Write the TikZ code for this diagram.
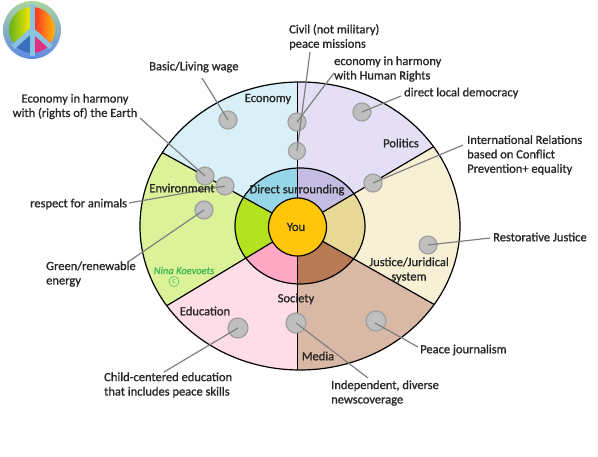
\documentclass[tikz,border=0pt]{standalone}
\usepackage{fontspec}
\setmainfont{Carlito}
\newfontfamily\lblfont[FakeBold=1]{Carlito}
\newfontfamily\ninafont[FakeBold=1,ItalicFont=Carlito Italic]{Carlito}
\usepackage{tikz}
\definecolor{ecoOut}{HTML}{DAF0F8}
\definecolor{polOut}{HTML}{E4DFF4}
\definecolor{jusOut}{HTML}{F7F0D4}
\definecolor{medOut}{HTML}{D9B8A5}
\definecolor{eduOut}{HTML}{FFDDE8}
\definecolor{envOut}{HTML}{DCF298}
\definecolor{ecoIn}{HTML}{96D6E8}
\definecolor{polIn}{HTML}{C4BCE2}
\definecolor{jusIn}{HTML}{E8DA96}
\definecolor{medIn}{HTML}{B87A55}
\definecolor{eduIn}{HTML}{FFA8C4}
\definecolor{envIn}{HTML}{B2E31E}
\definecolor{youFill}{HTML}{FFC60A}
\definecolor{dotFill}{HTML}{BFBFBF}
\definecolor{dotLine}{HTML}{A0A0A0}
\definecolor{leadLine}{HTML}{808080}
\definecolor{peaceBar}{HTML}{88C4E0}
\definecolor{peaceBlue}{HTML}{3A70C0}
\definecolor{peacePink}{HTML}{E0307F}
\definecolor{ninaGreen}{HTML}{3CB850}
\begin{document}
\begin{tikzpicture}[
    x=1pt, y=-1pt,
    ring/.style={draw=black, line width=1.2pt},
    spoke/.style={draw=black, line width=1.2pt},
    dot/.style={circle, draw=dotLine, line width=1.2pt, fill=dotFill,
                minimum size=18pt, inner sep=0pt},
    lead/.style={draw=leadLine, line width=1.2pt},
    lbl/.style={font=\fontsize{12.5}{14.4}\lblfont, text=black!85, inner sep=0pt, align=left},
    sector/.style={font=\fontsize{12.5}{14.4}\lblfont, text=black!85, inner sep=0pt, align=center}
  ]
  \useasboundingbox (0,0) rectangle (598,457);
  % Peace sign
  \shade[top color=yellow!30!peaceBar, bottom color=blue!30!peaceBar] (32,30) circle (29);
  \begin{scope}
    \clip (32,30) circle (23);
    \shade[shading angle=45, left color=green!55!black!85, right color=yellow!85!orange] (32,30) -- (32,0) -- (0,0) -- (0,52) -- cycle;
    \shade[shading angle=-45, left color=red!85, right color=yellow!90!orange] (32,30) -- (32,0) -- (64,0) -- (64,52) -- cycle;
    \fill[peaceBlue] (32,30) -- (32,60) -- (0,60) -- (0,52) -- cycle;
    \fill[peacePink] (32,30) -- (32,60) -- (64,60) -- (64,52) -- cycle;
  \end{scope}
  \draw[peaceBar, line width=5pt] (32,4) -- (32,56);
  \draw[peaceBar, line width=5pt] (13,47) -- (32,30) -- (51,47);
  % Corners of the sectors
  \coordinate (mid) at (297.5,227);
  \coordinate (topEnd) at (297.5,60);
  \coordinate (botEnd) at (297.5,390);
  \coordinate (tlEnd) at (129.4,134.5);
  \coordinate (trEnd) at (466.9,127);
  \coordinate (brEnd) at (466.9,323);
  \coordinate (blEnd) at (135.6,324.5);
  % Outer ring
  \begin{scope}
    \clip (300,226) ellipse [x radius=160, y radius=144];
    \fill[ecoOut] (mid) -- (topEnd) -- (125,60) -- (tlEnd) -- cycle;
    \fill[polOut] (mid) -- (topEnd) -- (470,60) -- (trEnd) -- cycle;
    \fill[jusOut] (mid) -- (trEnd) -- (brEnd) -- cycle;
    \fill[medOut] (mid) -- (brEnd) -- (470,390) -- (botEnd) -- cycle;
    \fill[eduOut] (mid) -- (botEnd) -- (125,390) -- (blEnd) -- cycle;
    \fill[envOut] (mid) -- (blEnd) -- (tlEnd) -- cycle;
  \end{scope}
  % Middle ring
  \begin{scope}
    \clip (300,226) ellipse [x radius=65, y radius=58];
    \fill[ecoIn] (mid) -- (topEnd) -- (125,60) -- (tlEnd) -- cycle;
    \fill[polIn] (mid) -- (topEnd) -- (470,60) -- (trEnd) -- cycle;
    \fill[jusIn] (mid) -- (trEnd) -- (brEnd) -- cycle;
    \fill[medIn] (mid) -- (brEnd) -- (470,390) -- (botEnd) -- cycle;
    \fill[eduIn] (mid) -- (botEnd) -- (125,390) -- (blEnd) -- cycle;
    \fill[envIn] (mid) -- (blEnd) -- (tlEnd) -- cycle;
  \end{scope}
  % Spokes
  \begin{scope}
    \clip (300,226) ellipse [x radius=160, y radius=144];
    \draw[spoke] (mid) -- (topEnd);
    \draw[spoke] (mid) -- (botEnd);
    \draw[spoke] (mid) -- (tlEnd);
    \draw[spoke] (mid) -- (trEnd);
    \draw[spoke] (mid) -- (brEnd);
    \draw[spoke] (mid) -- (blEnd);
  \end{scope}
  \draw[ring] (300,226) ellipse [x radius=160, y radius=144];
  \draw[ring] (300,226) ellipse [x radius=65, y radius=58];
  \node[circle, ring, fill=youFill, minimum size=58pt, inner sep=0pt] (you) at (297.5,227) {};
  % Dots
  \node[dot] (wageDot) at (228,120) {};
  \node[dot] (earthDot) at (205,176) {};
  \node[dot] (animalDot) at (225,186) {};
  \node[dot] (greenDot) at (204,210) {};
  \node[dot] (civilDot) at (297,122) {};
  \node[dot, minimum size=17pt] (rightsDot) at (297,151) {};
  \node[dot] (localDot) at (362,112) {};
  \node[dot] (relationsDot) at (373,183) {};
  \node[dot] (restoreDot) at (428,245) {};
  \node[dot, minimum size=20pt] (journalDot) at (376,321) {};
  \node[dot, minimum size=20pt] (newsDot) at (296,323) {};
  \node[dot, minimum size=20pt] (childDot) at (238,328) {};
  % Free ends of the connectors
  \coordinate (wageEnd) at (202,78);
  \coordinate (earthEnd) at (140,118);
  \coordinate (animalEnd) at (129,203);
  \coordinate (greenEnd) at (128,262);
  \coordinate (civilEnd) at (310,52);
  \coordinate (rightsEnd) at (334,73);
  \coordinate (localEnd) at (401,96);
  \coordinate (relationsEnd) at (463,145);
  \coordinate (restoreEnd) at (490,238);
  \coordinate (journalEnd) at (418,347);
  \coordinate (newsEnd) at (368,378);
  \coordinate (childEnd) at (164,372);
  % Connectors
  \draw[lead] (wageEnd) -- (wageDot.center);
  \draw[lead] (earthEnd) -- (earthDot.center);
  \draw[lead] (animalEnd) -- (animalDot.center);
  \draw[lead] (greenEnd) -- (greenDot.center);
  \draw[lead] (civilEnd) -- (rightsDot.center);
  \draw[lead] (rightsEnd) -- (civilDot.center);
  \draw[lead] (localEnd) -- (localDot.center);
  \draw[lead] (relationsEnd) -- (relationsDot.center);
  \draw[lead] (restoreEnd) -- (restoreDot.center);
  \draw[lead] (journalEnd) -- ([xshift=-1pt,yshift=-2pt]journalDot.center);
  \draw[lead] (newsEnd) -- (newsDot.center);
  \draw[lead] (childEnd) -- (childDot.center);
  % Sector names
  \node[sector] (economy) at (268,99) {Economy};
  \node[sector] (politics) at (401,143) {Politics};
  \node[sector] (environment) at (182,188) {Environment};
  \node[sector] (direct) at (297,190) {Direct surrounding};
  \node[sector] (youText) at (296,227) {You};
  \node[sector] (justice) at (409,270) {Justice/Juridical\\system};
  \node[sector] (education) at (205,311) {Education};
  \node[sector] (society) at (296,299) {Society};
  \node[sector] (media) at (318,356) {Media};
  % Outer labels
  \node[lbl, anchor=west] (wageLbl) at (149,67) {Basic/Living wage};
  \node[lbl, align=center] (earthLbl) at (75,106.5) {Economy in harmony\\with (rights of) the Earth};
  \node[lbl, anchor=west] (animalLbl) at (30,204) {respect for animals};
  \node[lbl, anchor=west] (greenLbl) at (46,274) {Green/renewable\\energy};
  \node[lbl, anchor=west] (civilLbl) at (289,37) {Civil (not military)\\peace missions};
  \node[lbl, anchor=west] (rightsLbl) at (334,69) {economy in harmony\\with Human Rights};
  \node[lbl, anchor=west] (localLbl) at (404,93) {direct local democracy};
  \node[lbl, anchor=west] (relationsLbl) at (467,155) {International Relations\\based on Conflict\\Prevention+ equality};
  \node[lbl, anchor=west] (restoreLbl) at (493,237) {Restorative Justice};
  \node[lbl, anchor=west] (journalLbl) at (420,350) {Peace journalism};
  \node[lbl, anchor=west] (newsLbl) at (331,393) {Independent, diverse\\newscoverage};
  \node[lbl, anchor=west] (childLbl) at (104,385) {Child-centered education\\that includes peace skills};
  % Signature
  \node[font=\fontsize{10.5}{12}\ninafont\itshape, text=ninaGreen, inner sep=0pt] (nina) at (184,270.5) {Nina Koevoets};
  \node[circle, draw=ninaGreen, line width=0.5pt, font=\fontsize{8}{8}\selectfont, text=ninaGreen, minimum size=10pt, inner sep=0pt] (ninaC) at (174,281.5) {c};
\end{tikzpicture}
\end{document}
